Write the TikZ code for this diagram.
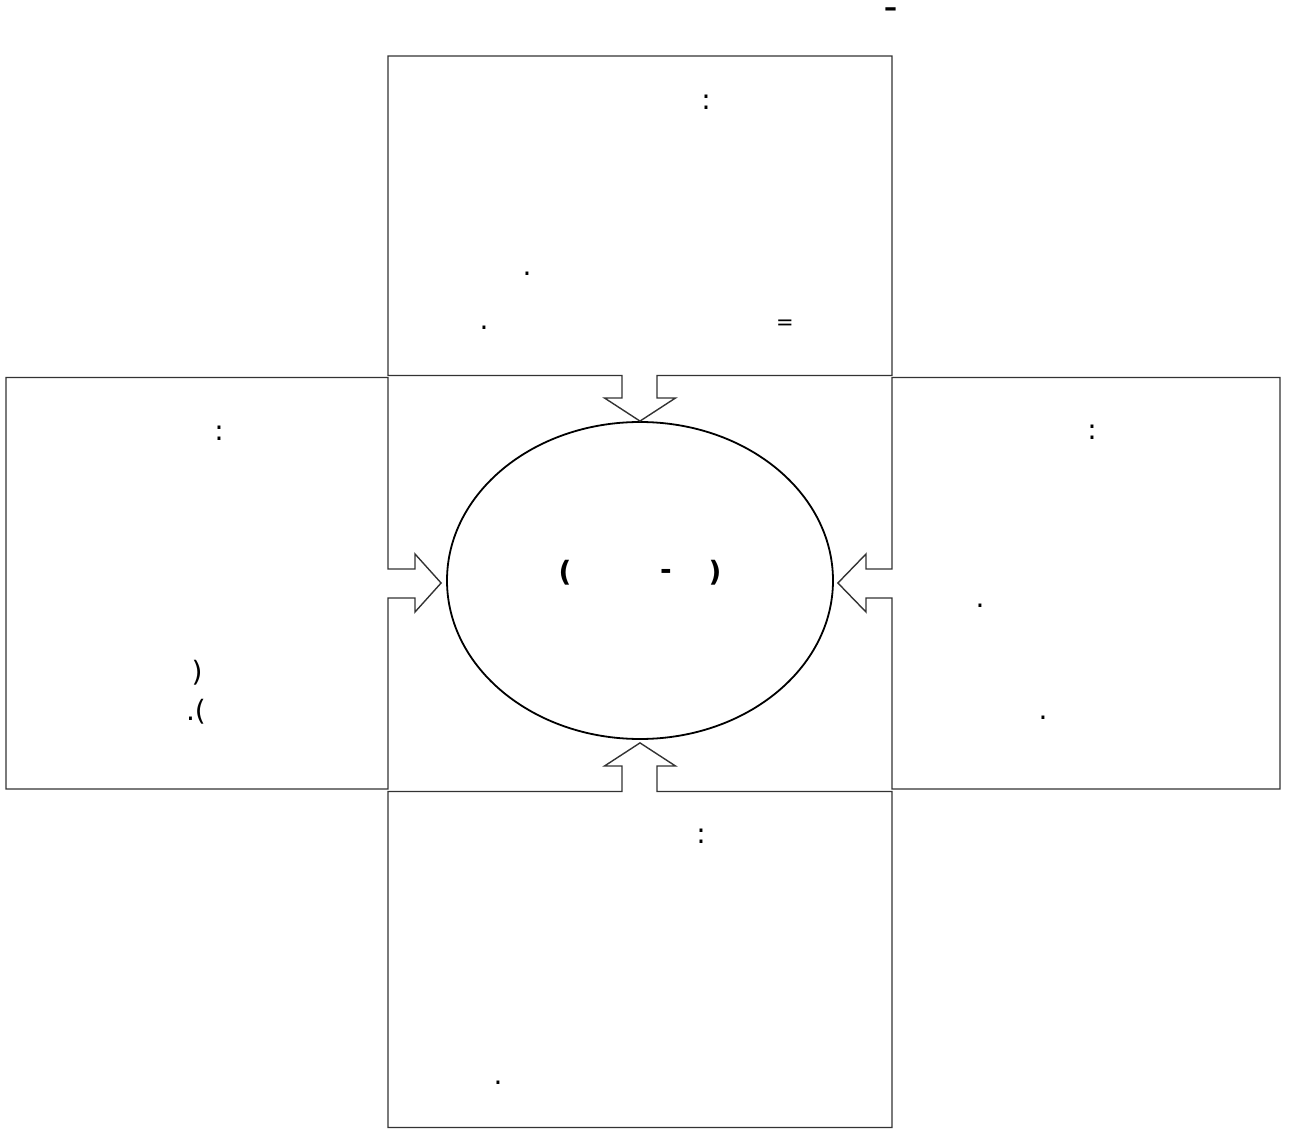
\documentclass[tikz,border=0pt]{standalone}
\usepackage{fontspec}
\setmainfont{DejaVu Sans}
\usetikzlibrary{shapes.geometric}

\tikzset{
  panel/.style={draw=black!80, line width=1.4pt, line join=miter},
  punct/.style={anchor=base, inner sep=0pt, font=\fontsize{28}{32}\selectfont},
}

\begin{document}
\begin{tikzpicture}[x=1pt, y=-1pt]
  \useasboundingbox (0,0) rectangle (1291,1131);

  % centre
  \node[ellipse, draw, line width=1.8pt, minimum width=386pt, minimum height=317pt, inner sep=0pt] (core) at (640,580.5) {};

  % top panel, arrow down
  \draw[panel] (622,375.5) -- (388,375.5) -- (388,56) -- (892,56) -- (892,375.5) -- (657,375.5)
    -- (657,398) -- (675.5,398) -- (core.north) -- (604.5,398) -- (622,398) -- cycle;
  % left panel, arrow right
  \draw[panel] (388,569) -- (388,377.5) -- (6,377.5) -- (6,789) -- (388,789) -- (388,598)
    -- (415,598) -- (415,612) -- ([xshift=-5pt,yshift=-2.5pt]core.west) -- (415,554) -- (415,569) -- cycle;
  % right panel, arrow left
  \draw[panel] (892,569) -- (892,377.5) -- (1280,377.5) -- (1280,789) -- (892,789) -- (892,598)
    -- (866,598) -- (866,612) -- ([xshift=4pt,yshift=-2.5pt]core.east) -- (866,554) -- (866,569) -- cycle;
  % bottom panel, arrow up
  \draw[panel] (622,791.5) -- (388,791.5) -- (388,1127.5) -- (892,1127.5) -- (892,791.5) -- (657,791.5)
    -- (657,766) -- (675.5,766) -- ([yshift=-3pt]core.south) -- (604.5,766) -- (622,766) -- cycle;

  \node[punct, font=\fontsize{26}{30}\selectfont\bfseries] (title) at (890.5,17) {--};

  \node[punct] (t1) at (706,110) {:};
  \node[punct] (t2) at (527,276) {.};
  \node[punct] (t3) at (484,330) {.};
  \node[punct, font=\fontsize{21}{25}\selectfont] (t4) at (785,330) {=};

  \node[punct] (l1) at (219,441) {:};
  \node[punct] (l2) at (197,681) {)};
  \node[punct] (l3) at (196,720) {.(};

  \node[punct] (r1) at (1092,440) {:};
  \node[punct] (r2) at (980,607) {.};
  \node[punct] (r3) at (1043,719) {.};

  \node[punct] (b1) at (701,843) {:};
  \node[punct] (b2) at (498,1084) {.};

  \node[punct, font=\fontsize{28}{32}\selectfont\bfseries] (c1) at (565,581) {(};
  \node[punct, font=\fontsize{28}{32}\selectfont\bfseries] (c2) at (666,579) {-};
  \node[punct, font=\fontsize{28}{32}\selectfont\bfseries] (c3) at (715,581) {)};
\end{tikzpicture}
\end{document}
